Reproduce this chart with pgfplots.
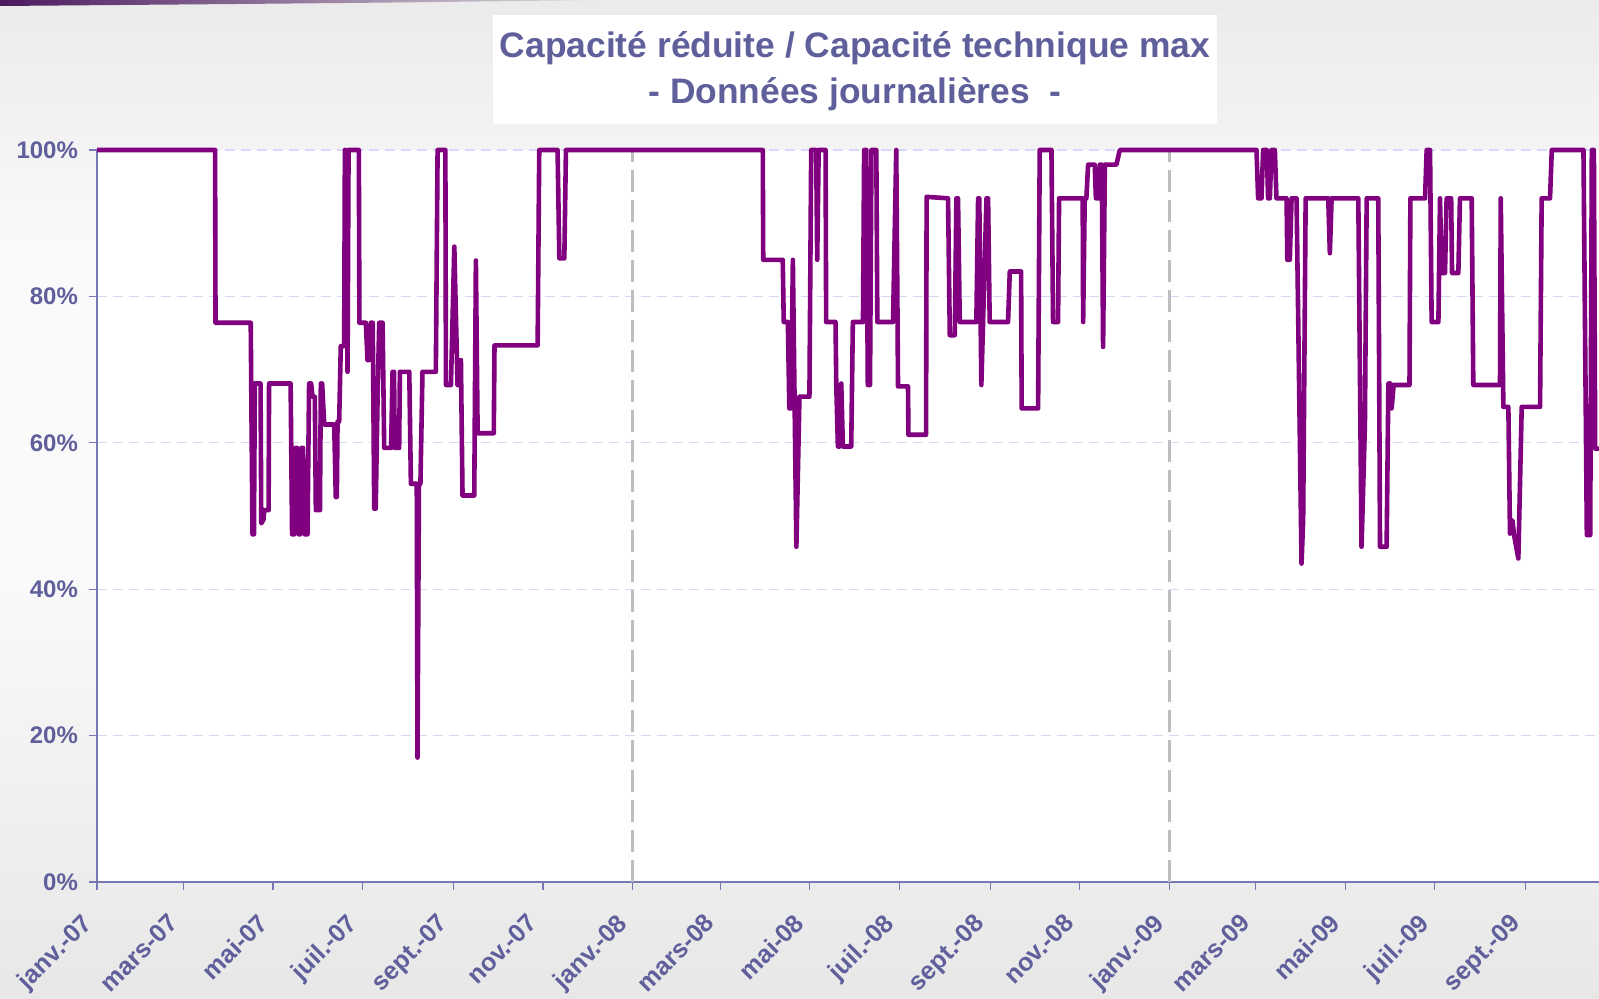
\documentclass[border=0pt]{standalone}
\usepackage{pgfplots}
\pgfplotsset{compat=1.18}
\usepackage{fontspec}
\setmainfont{Liberation Sans}
\definecolor{txt}{RGB}{95,95,155}
\definecolor{bg}{RGB}{222,222,222}
\definecolor{ln}{RGB}{128,0,128}
\definecolor{grd}{RGB}{215,215,250}
\definecolor{axc}{RGB}{120,120,180}
\definecolor{sep}{RGB}{190,190,190}
\definecolor{swoosh}{RGB}{75,25,95}
\pgfdeclareverticalshading{bgshade}{100bp}{color(0bp)=(bg); color(14bp)=(bg); color(47bp)=(white!85!bg); color(62bp)=(white!85!bg); color(86bp)=(bg); color(100bp)=(bg)}
\begin{document}
\begin{tikzpicture}
\useasboundingbox (0pt,0pt) rectangle (799.5pt,499pt);
\shade[shading=bgshade] (0pt,0pt) rectangle (799.5pt,499pt);
\clip (0pt,0pt) rectangle (799.5pt,499pt);
\shade[left color=swoosh, right color=bg] (0pt,499pt) -- (300pt,499pt) .. controls (180pt,497.5pt) .. (0pt,496pt) -- cycle;
\fill[white] (246.5pt,437pt) rectangle (608.5pt,491.5pt);
\node[text=txt, font=\bfseries\fontsize{17.7}{23}\selectfont, align=center] at (427.5pt,463.5pt) {Capacité réduite / Capacité technique max\\- Données journalières~ -};
\begin{axis}[
  at={(48.5pt,58pt)}, anchor=south west,
  scale only axis, width=751pt, height=366pt,
  xmin=0, xmax=1024, ymin=0, ymax=100,
  clip=false,
  axis x line*=bottom, axis y line*=left,
  axis background/.style={fill=white},
  axis line style={axc, line width=0.8pt},
  tick style={axc, line width=0.6pt},
  tick align=outside, major tick length=4pt,
  ytick={0,20,40,60,80,100},
  yticklabel={\pgfmathprintnumber{\tick}\%},
  xtick={0,59,120,181,243,304,365,425,486,547,609,670,731,790,851,912,974},
  xticklabels={janv.-07,mars-07,mai-07,juil.-07,sept.-07,nov.-07,janv.-08,mars-08,mai-08,juil.-08,sept.-08,nov.-08,janv.-09,mars-09,mai-09,juil.-09,sept.-09},
  /pgf/number format/assume math mode=true,
  tick label style={font=\bfseries\fontsize{12}{12}\selectfont, text=txt},
  yticklabel style={xshift=-2pt},
  xticklabel style={font=\bfseries\fontsize{12.6}{12.6}\selectfont, xshift=-8.5pt, yshift=-8pt, rotate=45, anchor=north east, inner sep=2pt},
  ymajorgrids, grid style={grd, dash pattern=on 5pt off 3pt, line width=0.6pt},
  extra x ticks={365,731}, extra x tick labels={},
  extra x tick style={grid=major, major grid style={sep, line width=1.5pt, dash pattern=on 11pt off 4pt}, major tick length=0pt},
]
\addplot[ln, line width=2.3pt, line join=round] coordinates {
(0,100) (80.5,100) (80.8,76.4) (104.8,76.4) (106,47.5) (107,47.5) (107.6,68.1) (111.5,68.1) (112,49) (113.5,49.5) (114,50.8) (117,50.8) (117.3,68.1) (132,68.1) (133,47.5) (134.5,47.5) (135.5,59.3) (136.5,59.3) (137.5,47.5) (138.5,47.5) (139.5,59.3) (140.5,59.3) (141.5,47.5) (143.5,47.5) (144.6,68.1) (146,68.1) (146.9,66.3) (148.5,66.3) (149.2,50.8) (152,50.8) (152.6,68.1) (153.5,68.1) (154.9,62.5) (161.7,62.5) (162.8,52.6) (163.5,52.6) (164,62.9) (165.1,62.9) (166.2,73.2) (168.5,73.2) (169,100) (169.6,100) (170.8,69.7) (171.5,100) (178.5,100) (178.9,76.4) (183.3,76.4) (184.4,71.3) (185.5,71.3) (186.7,76.4) (188,76.4) (189,51) (190,51) (191.3,66.3) (192.4,76.4) (194.7,76.4) (195.8,59.3) (200.5,59.3) (201.5,69.7) (202.5,69.7) (203,59.3) (206,59.3) (206.5,69.7) (212.9,69.7) (214,54.4) (218,54.4) (218.5,17) (219.5,54.4) (220.5,54.4) (221.9,69.7) (231,69.7) (232.2,100) (237.5,100) (237.9,67.9) (241.3,67.9) (243.6,86.8) (245.8,67.9) (247,67.9) (248.1,71.3) (249.2,52.8) (257.2,52.8) (258.3,84.9) (259.5,61.3) (270.5,61.3) (271,73.3) (300.4,73.3) (301.5,100) (314,100) (315.2,85.2) (318.6,85.2) (319.7,100)
(453.9,100) (454.2,85) (467.5,85) (468.2,76.5) (471,76.5) (472,64.7) (473.2,64.7) (474.4,85) (476.8,45.8) (478.9,66.3) (485.7,66.3) (486.9,100) (490.3,100) (491,85) (492,100) (496.7,100) (497.1,76.5) (503.5,76.5) (504,67.9) (505.1,59.5) (506.5,59.5) (507.4,68.1) (508.5,59.5) (514.2,59.5) (515.3,76.5) (522.2,76.5) (523,100) (524.5,100) (525.5,67.9) (527,67.9) (528,100) (531.3,100) (532,76.5) (542.7,76.5) (544.9,100) (546.1,67.7) (552.9,67.7) (553.2,61.1) (565.2,61.1) (565.6,93.6) (580.2,93.4) (581.4,74.7) (584.8,74.7) (585.9,93.4) (587,93.4) (588.2,76.5) (599.5,76.5) (600.7,93.4) (601.5,93.4) (602.9,67.9) (606.4,93.4) (607.5,93.4) (608.6,76.5) (621.1,76.5) (622.3,83.4) (630,83.4) (630.4,64.7) (641.6,64.7) (642.7,100) (650.7,100) (651.8,76.5) (655.2,76.5) (655.9,93.4) (672,93.4) (672.3,76.5) (673.4,93.4) (674.5,93.4) (675.7,98) (680.2,98) (681,93.4) (683,93.4) (683.7,98) (685,98) (685.9,73.1) (687.1,98) (695,98) (697.3,100)
(790.5,100) (791.6,93.4) (793.9,93.4) (795,100) (797.5,100) (798.4,93.4) (799.6,93.4) (800.7,100) (803,100) (804.1,93.4) (811,93.4) (811.5,85) (813.2,85) (814.4,93.4) (817.8,93.4) (821.2,43.5) (822.3,49.5) (824,93.4) (839.4,93.4) (840.5,85.9) (841.7,93.4) (859.9,93.4) (862.1,45.8) (864.4,62.5) (865.6,93.4) (873.5,93.4) (874.7,45.8) (879.2,45.8) (880.4,68.1) (881.7,68.1) (882.6,64.7) (884,67.9) (894.8,67.9) (895.4,93.4) (905.4,93.4) (906.5,100) (908.8,100) (909.9,76.5) (914.5,76.5) (915.6,93.4) (916.7,83.2) (919,83.2) (920.1,93.4) (923.2,93.4) (923.8,83.2) (928.1,83.2) (929.2,93.4) (937.2,93.4) (938.3,67.9) (956.5,67.9) (957,93.4) (958.8,64.9) (962.2,64.9) (963.3,47.6) (965,49.4) (966,47.5) (969,44.2) (971.3,64.9) (983.8,64.9) (984.9,93.4) (990.6,93.4) (991.8,100) (1013.4,100) (1015.7,47.4) (1018,47.4) (1019.1,100) (1020.5,100) (1021.4,59.2) (1024.5,59.2)
};
\end{axis}
\end{tikzpicture}
\end{document}
